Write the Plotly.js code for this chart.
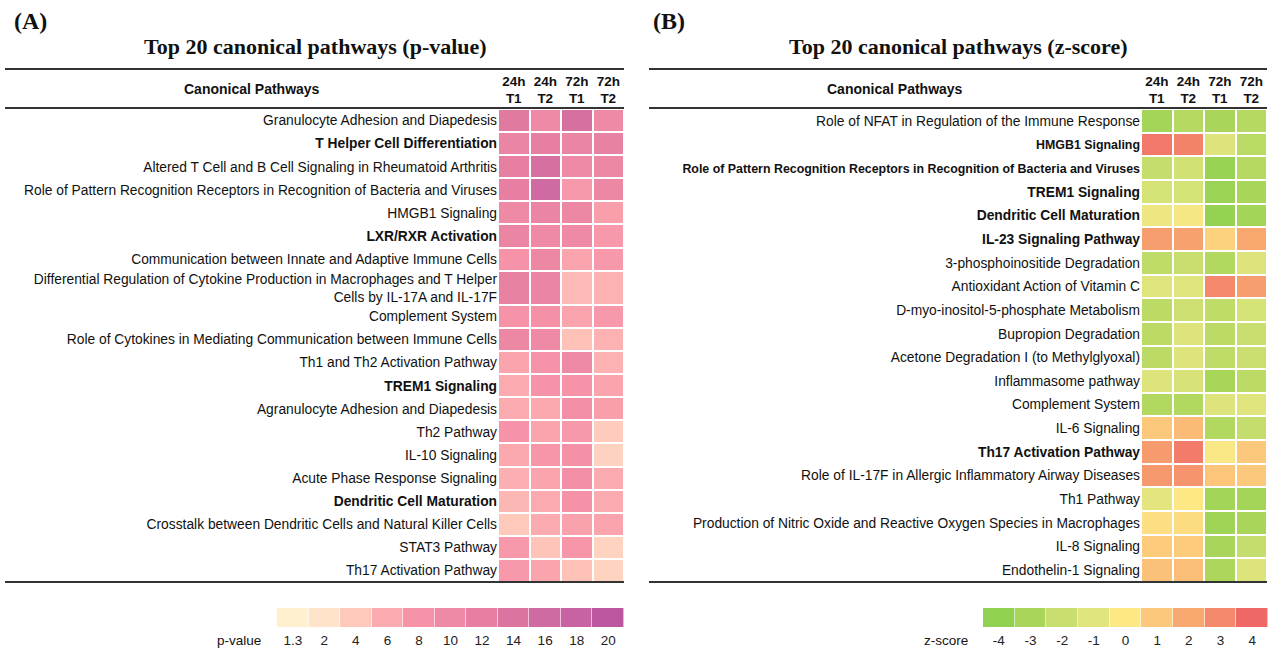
<!DOCTYPE html>
<html><head><meta charset="utf-8">
<script src="https://cdn.plot.ly/plotly-3.0.1.min.js"></script>
<style>html,body{margin:0;padding:0;background:#fff}</style>
</head><body>
<div id="chart" style="width:1281px;height:650px"></div>
<script>
// ---------------- DATA ----------------
const columns = ['24h<br>T1', '24h<br>T2', '72h<br>T1', '72h<br>T2'];

const pathwaysA = [
  'Granulocyte Adhesion and Diapedesis',
  'T Helper Cell Differentiation',
  'Altered T Cell and B Cell Signaling in Rheumatoid Arthritis',
  'Role of Pattern Recognition Receptors in Recognition of Bacteria and Viruses',
  'HMGB1 Signaling',
  'LXR/RXR Activation',
  'Communication between Innate and Adaptive Immune Cells',
  'Differential Regulation of Cytokine Production in Macrophages and T Helper<br>Cells by IL-17A and IL-17F',
  'Complement System',
  'Role of Cytokines in Mediating Communication between Immune Cells',
  'Th1 and Th2 Activation Pathway',
  'TREM1 Signaling',
  'Agranulocyte Adhesion and Diapedesis',
  'Th2 Pathway',
  'IL-10 Signaling',
  'Acute Phase Response Signaling',
  'Dendritic Cell Maturation',
  'Crosstalk between Dendritic Cells and Natural Killer Cells',
  'STAT3 Pathway',
  'Th17 Activation Pathway'
];
const boldA = ['T Helper Cell Differentiation', 'LXR/RXR Activation', 'TREM1 Signaling', 'Dendritic Cell Maturation'];

// -log10(p-value)
const p_24hT1 = [13, 11, 12, 12, 10, 11, 8, 11.5, 8, 10.5, 6.5, 6, 6, 8, 6.2, 5.7, 5.2, 4, 7.5, 7.5];
const p_24hT2 = [10, 12, 15, 16, 11, 10, 10.5, 11, 8.5, 10, 8, 8, 6.2, 6.5, 7.8, 6.5, 6, 6, 4.3, 6.5];
const p_72hT1 = [15, 11, 10, 7.5, 10.5, 10, 6.5, 5, 6.5, 4.5, 10, 8, 9, 7.5, 8.5, 9, 8.2, 6.7, 7.7, 4.5];
const p_72hT2 = [10, 11.5, 10.5, 10.5, 7, 7.5, 7.5, 5.5, 7.5, 5.5, 5.5, 6.5, 7, 3.8, 3.3, 6, 6, 6.5, 3.2, 3.2];

const pathwaysB = [
  'Role of NFAT in Regulation of the Immune Response',
  'HMGB1 Signaling',
  'Role of Pattern Recognition Receptors in Recognition of Bacteria and Viruses',
  'TREM1 Signaling',
  'Dendritic Cell Maturation',
  'IL-23 Signaling Pathway',
  '3-phosphoinositide Degradation',
  'Antioxidant Action of Vitamin C',
  'D-myo-inositol-5-phosphate Metabolism',
  'Bupropion Degradation',
  'Acetone Degradation I (to Methylglyoxal)',
  'Inflammasome pathway',
  'Complement System',
  'IL-6 Signaling',
  'Th17 Activation Pathway',
  'Role of IL-17F in Allergic Inflammatory Airway Diseases',
  'Th1 Pathway',
  'Production of Nitric Oxide and Reactive Oxygen Species in Macrophages',
  'IL-8 Signaling',
  'Endothelin-1 Signaling'
];
const boldB = ['HMGB1 Signaling', 'Role of Pattern Recognition Receptors in Recognition of Bacteria and Viruses',
  'TREM1 Signaling', 'Dendritic Cell Maturation', 'IL-23 Signaling Pathway', 'Th17 Activation Pathway'];
// labels that are set in a narrower type in the original figure
const narrowB = ['HMGB1 Signaling', 'Role of Pattern Recognition Receptors in Recognition of Bacteria and Viruses'];

const z_24hT1 = [-3.2, 3.5, -2.1, -1.5, -0.6, 2.3, -2.3, -1.1, -2.4, -2.4, -2.4, -1.2, -2.7, 1.0, 2.4, 2.5, -0.9, 0.3, 0.9, 1.2];
const z_24hT2 = [-2.6, 3.2, -1.6, -1.5, -0.3, 2.2, -2.0, -1.1, -1.8, -1.2, -1.2, -1.4, -2.7, 1.4, 3.4, 2.6, 0.0, 0.4, 0.9, 1.3];
const z_72hT1 = [-3.0, -1.2, -3.7, -3.6, -3.8, 0.7, -2.7, 3.0, -2.3, -2.4, -2.3, -3.1, -1.2, -2.7, -0.2, 1.1, -3.3, -3.4, -3.0, -2.9];
const z_72hT2 = [-2.6, -2.5, -2.6, -3.1, -3.3, 2.0, -1.2, 2.3, -1.5, -2.0, -1.9, -2.4, -1.1, -2.1, 1.0, 1.0, -3.2, -3.0, -2.1, -1.2];

// legend scales
const pLegendTicks = ['1.3', '2', '4', '6', '8', '10', '12', '14', '16', '18', '20'];
const pLegendColors = ['#FFF0D0', '#FFE4CA', '#FEC8BA', '#FBAAB0', '#F693A8', '#EE8AA5', '#E67FA2', '#DB75A0', '#D06AA2', '#C862A2', '#BC579F'];
const zLegendTicks = ['-4', '-3', '-2', '-1', '0', '1', '2', '3', '4'];
const zLegendColors = ['#90D152', '#A9D65A', '#C8DE6E', '#E1E57E', '#FEE885', '#FCC87B', '#F8A76F', '#F4886C', '#F06866'];

// ---------------- HELPERS ----------------
const W = 1281, H = 650;
const fx = v => v / W;
const fy = v => 1 - v / H;
const SANS = 'Liberation Sans, Arial, sans-serif';
const SERIF = 'Liberation Serif, Times New Roman, serif';
const LABEL_SIZE = 13.8;

function scaleFrom(ticks, colors) {
  const vals = ticks.map(Number);
  const lo = vals[0], hi = vals[vals.length - 1];
  return { cs: vals.map((v, i) => [(v - lo) / (hi - lo), colors[i]]), lo, hi };
}
const pScale = scaleFrom(pLegendTicks, pLegendColors);
const zScale = scaleFrom(zLegendTicks, zLegendColors);

function transpose(cols) { return cols[0].map((_, r) => cols.map(c => c[r])); }
function labelText(list, bold, narrow) {
  return list.map(s => {
    let t = bold.includes(s) ? '<b>' + s + '</b>' : s;
    if (narrow && narrow.includes(s)) t = '<span style="font-size:12.4px">' + t + '</span>';
    return t;
  });
}
function rowEdges(list) {
  const e = [0];
  list.forEach(s => e.push(e[e.length - 1] + (s.includes('<br>') ? 1.48 : 1)));
  return e;
}
const edgesA = rowEdges(pathwaysA), edgesB = rowEdges(pathwaysB);
const centers = e => e.slice(0, -1).map((v, i) => (v + e[i + 1]) / 2);

const colIdx = columns.map((_, i) => i);
const colEdges = [-0.5, 0.5, 1.5, 2.5, 3.5];

const traces = [
  { type: 'heatmap', x: colEdges, y: edgesA, z: transpose([p_24hT1, p_24hT2, p_72hT1, p_72hT2]),
    colorscale: pScale.cs, zmin: pScale.lo, zmax: pScale.hi, showscale: false, xgap: 2, ygap: 2,
    xaxis: 'x', yaxis: 'y', hoverinfo: 'z' },
  { type: 'heatmap', x: colEdges, y: edgesB, z: transpose([z_24hT1, z_24hT2, z_72hT1, z_72hT2]),
    colorscale: zScale.cs, zmin: zScale.lo, zmax: zScale.hi, showscale: false, xgap: 2, ygap: 2,
    xaxis: 'x2', yaxis: 'y2', hoverinfo: 'z' },
  { type: 'heatmap', x: pLegendTicks, y: [0], z: [pLegendTicks.map(Number)],
    colorscale: pScale.cs, zmin: pScale.lo, zmax: pScale.hi, showscale: false, xgap: 0.6,
    xaxis: 'x3', yaxis: 'y3', hoverinfo: 'z' },
  { type: 'heatmap', x: zLegendTicks, y: [0], z: [zLegendTicks.map(Number)],
    colorscale: zScale.cs, zmin: zScale.lo, zmax: zScale.hi, showscale: false, xgap: 0.6,
    xaxis: 'x4', yaxis: 'y4', hoverinfo: 'z' }
];

const mainY = [fy(582), fy(109)];
const hdrX = (anchor, dom) => ({
  domain: dom, anchor: anchor, side: 'top', range: [-0.5, 3.5], tickmode: 'array',
  tickvals: colIdx, ticktext: columns.map(c => '<b>' + c + '</b>'), ticks: '', showgrid: false,
  zeroline: false, showline: false, fixedrange: true, ticklabelstandoff: 2,
  tickfont: { family: SANS, size: 13.5, color: '#111' }
});
const rowY = (anchor, edges, labels) => ({
  domain: mainY, anchor: anchor, range: [edges[edges.length - 1], 0], tickmode: 'array',
  tickvals: centers(edges), ticktext: labels, ticks: '', showgrid: false, zeroline: false,
  showline: false, fixedrange: true, ticklabelstandoff: 0,
  tickfont: { family: SANS, size: LABEL_SIZE, color: '#111' }
});
const legX = (anchor, dom) => ({
  domain: dom, anchor: anchor, type: 'category', ticks: '', showgrid: false, zeroline: false,
  showline: false, fixedrange: true, ticklabelstandoff: 3,
  tickfont: { family: SANS, size: 13.5, color: '#222' }
});
const legY = (anchor) => ({
  domain: [fy(627), fy(608)], anchor: anchor, showticklabels: false, ticks: '', showgrid: false,
  zeroline: false, showline: false, fixedrange: true
});

const line = (x0, x1, y) => ({ type: 'line', xref: 'paper', yref: 'paper', x0: fx(x0), x1: fx(x1), y0: fy(y), y1: fy(y),
  line: { color: '#333', width: 2 } });

const ann = (text, x, y, size, family, xanchor, extra) => Object.assign({
  text, x: fx(x), y: fy(y), xref: 'paper', yref: 'paper', showarrow: false, xanchor: xanchor || 'center',
  yanchor: 'middle', font: { family, size, color: '#111' } }, extra || {});

const layout = {
  width: W, height: H, margin: { l: 0, r: 0, t: 0, b: 0 }, paper_bgcolor: '#fff', plot_bgcolor: '#fff',
  showlegend: false, font: { family: SANS },
  xaxis: hdrX('y', [fx(498), fx(624)]),
  yaxis: rowY('x', edgesA, labelText(pathwaysA, boldA)),
  xaxis2: hdrX('y2', [fx(1141), fx(1267)]),
  yaxis2: rowY('x2', edgesB, labelText(pathwaysB, boldB, narrowB)),
  xaxis3: legX('y3', [fx(277), fx(624)]),
  yaxis3: legY('x3'),
  xaxis4: legX('y4', [fx(983), fx(1268)]),
  yaxis4: legY('x4'),
  shapes: [
    line(5, 624, 69), line(5, 624, 108), line(5, 624, 582),
    line(649, 1267, 69), line(649, 1267, 108), line(649, 1267, 582)
  ],
  annotations: [
    ann('<b>(A)</b>', 12, 21, 24, SERIF, 'left'),
    ann('<b>(B)</b>', 651, 21, 24, SERIF, 'left'),
    ann('<b>Top 20 canonical pathways (p-value)</b>', 315, 46, 22, SERIF),
    ann('<b>Top 20 canonical pathways (z-score)</b>', 958, 46, 22, SERIF),
    ann('<b>Canonical Pathways</b>', 252, 89, 14, SANS),
    ann('<b>Canonical Pathways</b>', 895, 89, 14, SANS),
    ann('p-value', 263, 640, 13.5, SANS, 'right'),
    ann('z-score', 970, 640, 13.5, SANS, 'right')
  ]
};

Plotly.newPlot('chart', traces, layout, { displayModeBar: false, staticPlot: true });
</script>
</body></html>
